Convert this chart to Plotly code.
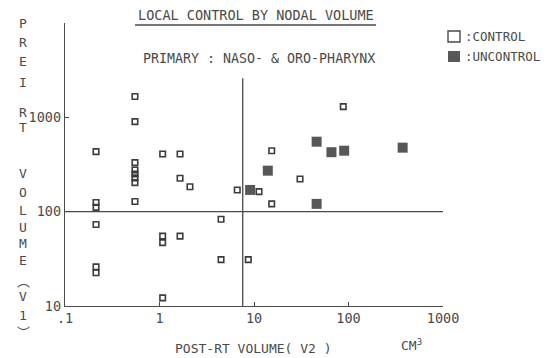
import plotly.graph_objects as go

# ---- data ----
control_v2 = [0.55, 0.55, 0.213, 1.08, 1.65, 0.55, 0.55, 0.55, 0.55, 0.55, 1.65, 2.1,
              0.55, 0.213, 0.213, 0.213, 1.08, 1.08, 1.65, 0.213, 0.213, 1.08,
              4.48, 4.48, 8.7, 15.4, 30.7, 6.65, 11.3, 15.4, 88]
control_v1 = [1660, 900, 433, 409, 409, 331, 277, 251, 228, 203, 226, 184,
              128, 125, 111, 73, 55, 47, 55, 26, 22.5, 12.2,
              83, 31, 31, 443, 222, 170, 163, 121, 1300]
uncontrol_v2 = [9.1, 14.0, 46, 66, 90, 374, 46]
uncontrol_v1 = [170, 272, 552, 427, 443, 477, 121]

v2_cut = 7.6          # vertical divider (post-RT volume)
v2_cut_top = 2600     # vertical divider upper end
v1_cut = 100          # horizontal divider (pre-RT volume)
v2_span = [0.1, 1000]

x_tickvals = [0.1, 1, 10, 100, 1000]
x_ticktext = [".1", "1", "10", "100", "1000"]
y_tickvals = [10, 100, 1000, 10000]
y_ticktext = ["10", "100", "1000", ""]

title = "LOCAL CONTROL BY NODAL VOLUME"
subtitle = "PRIMARY : NASO- & ORO-PHARYNX"
x_title = "POST-RT VOLUME( V2 )"
unit = "CM<sup>3</sup>"
y_title_chars = ["P", "R", "E", "I", "R", "T", "V", "O", "L", "U", "M", "E", "︵", "V", "1", "︶"]
y_title_pos = [23, 43, 62, 83, 112, 128, 173, 192, 210, 227, 243, 260, 280, 296, 315, 331]

INK = "#4a4a4a"
FONT = "DejaVu Sans Mono"

W, H = 550, 358
L, R, T, B = 65, 107, 23, 52
PW, PH = W - L - R, H - T - B


def px(p):
    return (p - L) / PW


def py(p):
    return (H - B - p) / PH


fig = go.Figure()

fig.add_trace(go.Scatter(x=v2_span, y=[v1_cut, v1_cut], mode="lines",
                         line=dict(color=INK, width=1.3), hoverinfo="skip", showlegend=False))
fig.add_trace(go.Scatter(x=[v2_cut, v2_cut], y=[10, v2_cut_top], mode="lines",
                         line=dict(color=INK, width=1.3), hoverinfo="skip", showlegend=False))

fig.add_trace(go.Scatter(x=control_v2, y=control_v1, mode="markers", name="CONTROL",
                         marker=dict(symbol="square-open", size=5.5, color="#3c3c3c",
                                     line=dict(width=1.6, color="#3c3c3c")),
                         showlegend=False))
fig.add_trace(go.Scatter(x=uncontrol_v2, y=uncontrol_v1, mode="markers", name="UNCONTROL",
                         marker=dict(symbol="square", size=10, color="#575757",
                                     line=dict(width=0)),
                         showlegend=False))

axis_common = dict(type="log", showgrid=False, zeroline=False, showline=True,
                   linecolor=INK, linewidth=1.4, ticks="inside", ticklen=4,
                   tickcolor=INK, tickwidth=1.3,
                   tickfont=dict(family=FONT, size=13.5, color=INK))

fig.update_xaxes(range=[-1, 3], tickvals=x_tickvals, ticktext=x_ticktext, **axis_common)
fig.update_yaxes(range=[1, 4], tickvals=y_tickvals, ticktext=y_ticktext, **axis_common)

ann = []
ann.append(dict(x=px(256), y=py(15), xref="paper", yref="paper", text=title, showarrow=False,
                font=dict(family=FONT, size=13.5, color=INK), xanchor="center", yanchor="middle"))
ann.append(dict(x=px(259), y=py(58), xref="paper", yref="paper", text=subtitle, showarrow=False,
                font=dict(family=FONT, size=13.3, color=INK), xanchor="center", yanchor="middle"))
ann.append(dict(x=px(463), y=py(36), xref="paper", yref="paper", text=":CONTROL", showarrow=False,
                font=dict(family=FONT, size=12.5, color=INK), xanchor="left", yanchor="middle"))
ann.append(dict(x=px(463), y=py(56), xref="paper", yref="paper", text=":UNCONTROL", showarrow=False,
                font=dict(family=FONT, size=12.5, color=INK), xanchor="left", yanchor="middle"))
ann.append(dict(x=px(253), y=py(348), xref="paper", yref="paper", text=x_title, showarrow=False,
                font=dict(family=FONT, size=13, color=INK), xanchor="center", yanchor="middle"))
ann.append(dict(x=px(411), y=py(345), xref="paper", yref="paper", text=unit, showarrow=False,
                font=dict(family=FONT, size=13, color=INK), xanchor="center", yanchor="middle"))
for ch, yy in zip(y_title_chars, y_title_pos):
    fam = FONT if ch.isascii() else "Noto Sans CJK JP"
    ann.append(dict(x=px(23), y=py(yy), xref="paper", yref="paper", text=ch, showarrow=False,
                    font=dict(family=fam, size=13, color=INK),
                    xanchor="center", yanchor="middle"))

shapes = [
    dict(type="line", xref="paper", yref="paper", x0=px(135), x1=px(376), y0=py(25), y1=py(25),
         line=dict(color=INK, width=1.3)),
    dict(type="rect", xref="paper", yref="paper", x0=px(448), x1=px(460), y0=py(31), y1=py(42),
         line=dict(color=INK, width=1.4), fillcolor="white"),
    dict(type="rect", xref="paper", yref="paper", x0=px(448), x1=px(460), y0=py(51), y1=py(62),
         line=dict(color="#575757", width=0), fillcolor="#575757"),
]

fig.update_layout(width=W, height=H, margin=dict(l=L, r=R, t=T, b=B, autoexpand=False),
                  paper_bgcolor="white", plot_bgcolor="white",
                  annotations=ann, shapes=shapes, showlegend=False)

fig.write_html("out.html", config={"displayModeBar": False},
               post_script="document.body.style.margin='0';document.body.style.overflow='hidden';")
